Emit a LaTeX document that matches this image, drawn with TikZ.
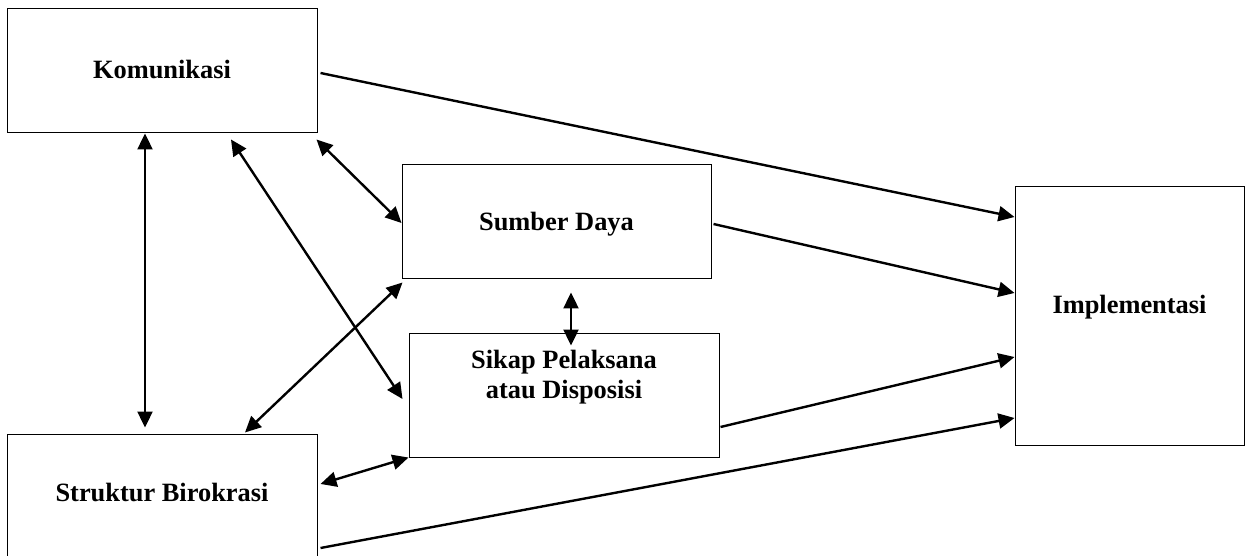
\documentclass[tikz,border=0pt]{standalone}
\usepackage{fontspec}
\setmainfont{Liberation Serif}
\usetikzlibrary{arrows.meta}
\begin{document}
\begin{tikzpicture}[x=1pt,y=1pt,
  box/.style={draw, line width=1pt, minimum width=#1, inner sep=0pt},
  lbl/.style={font=\fontsize{26.4}{30}\selectfont\bfseries, align=center},
  tip/.style={},
  conn/.style={line width=2.4pt, -{Triangle[length=16pt,width=15pt]}},
  biconn/.style={line width=2.4pt, {Triangle[length=16pt,width=15pt]}-{Triangle[length=16pt,width=15pt]}}]
\useasboundingbox (0,0) rectangle (1245,555);
\node[box=310pt, minimum height=124pt, label={[lbl,yshift=1pt]center:Komunikasi}] (kom) at (162,484) {};
\node[box=309pt, minimum height=114pt, label={[lbl,yshift=-2pt]center:Sumber Daya}] (sum) at (556.5,333) {};
\node[box=310pt, minimum height=124pt, label={[lbl,yshift=18pt]center:Sikap Pelaksana\\atau Disposisi}] (sik) at (564,160) {};
\node[box=310pt, minimum height=124pt, label={[lbl,yshift=4pt]center:Struktur Birokrasi}] (str) at (162,59) {};
\node[box=229pt, minimum height=258pt, label={[lbl,yshift=9pt]center:Implementasi}] (imp) at (1129.5,239) {};
% to Implementasi
\draw[conn] ([shift={(3,-2)}]kom.east) -- ([shift={(0,99)}]imp.west);
\draw[conn] ([shift={(2,-2)}]sum.east) -- ([shift={(0,23)}]imp.west);
\draw[conn] ([shift={(1,-32)}]sik.east) -- ([shift={(0,-41)}]imp.west);
\draw[conn] ([shift={(3,-52)}]str.east) -- ([shift={(0,-102)}]imp.west);
% mutual links
\draw[biconn] ([shift={(-17,0)}]kom.south) -- ([shift={(-17,6)}]str.north);
\draw[biconn] ([shift={(69,-6)}]kom.south) -- ([shift={(-6,-4)}]sik.west);
\draw[biconn] ([shift={(-1,-6)}]kom.south east) -- ([shift={(0,-1)}]sum.west);
\draw[biconn] ([shift={(1,-3)}]sum.south west) -- ([shift={(83,1)}]str.north);
\draw[biconn] ([shift={(14.5,-13)}]sum.south) -- ([shift={(7,-13)}]sik.north);
\draw[biconn] (sik.south west) -- ([shift={(3,12)}]str.east);
\end{tikzpicture}
\end{document}
